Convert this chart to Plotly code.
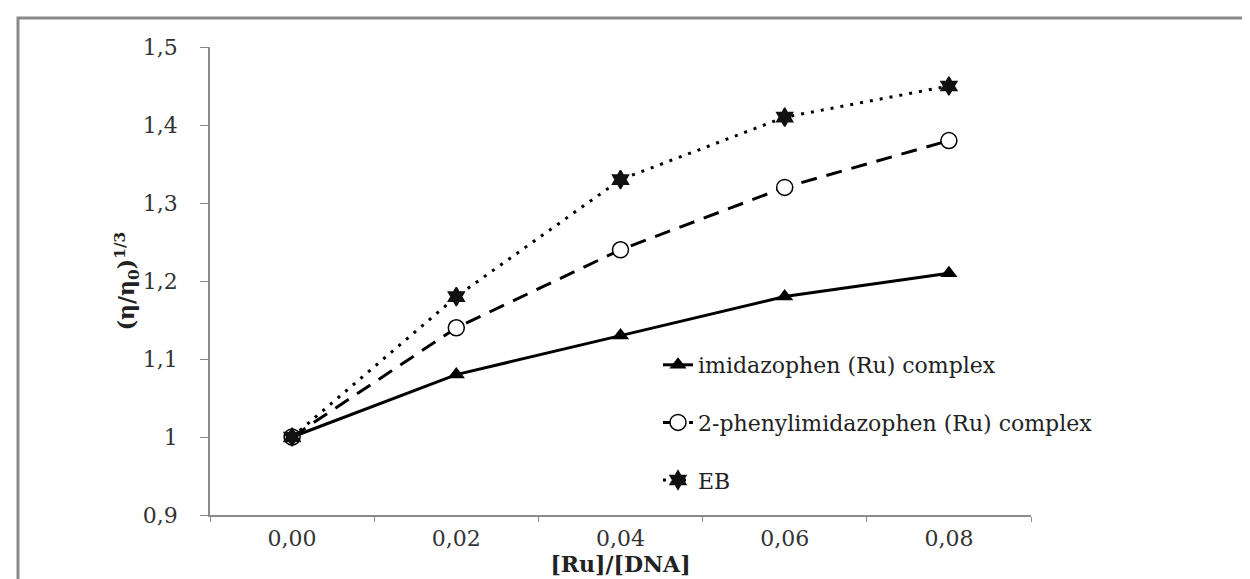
import plotly.graph_objects as go

ratio_labels = ["0,00", "0,02", "0,04", "0,06", "0,08"]
imidazophen = [1.00, 1.08, 1.13, 1.18, 1.21]
phenylimidazophen = [1.00, 1.14, 1.24, 1.32, 1.38]
eb = [1.00, 1.18, 1.33, 1.41, 1.45]

series_names = ["imidazophen (Ru) complex", "2-phenylimidazophen (Ru) complex", "EB"]

FONT = "DejaVu Serif"
FS = 22

fig = go.Figure()
fig.add_trace(go.Scatter(
    x=ratio_labels, y=imidazophen, name=series_names[0], mode="lines+markers",
    line=dict(color="black", width=3),
    marker=dict(symbol="triangle-up", size=15, color="black"),
    legendgroup="a"))
fig.add_trace(go.Scatter(
    x=ratio_labels, y=phenylimidazophen, name=series_names[1], mode="lines+markers",
    line=dict(color="black", width=3, dash="16px,10px"),
    marker=dict(symbol="circle", size=16, color="white", line=dict(color="black", width=1.5)),
    legendgroup="b"))
fig.add_trace(go.Scatter(
    x=ratio_labels, y=eb, name=series_names[2], mode="lines+markers",
    line=dict(color="black", width=3, dash="3px,7px"),
    marker=dict(symbol="hexagram", size=14, color="#111", line=dict(color="#111", width=1.5)),
    legendgroup="c"))

L, R, T, B = 202, 1023, 39, 507
W, H = 1250, 579


def px_x(p):
    return (p - L) / (R - L)


def px_y(p):
    return (B - p) / (B - T)


fig.update_layout(
    width=W, height=H,
    margin=dict(l=L, r=W - R, t=T, b=H - B, autoexpand=False),
    paper_bgcolor="white", plot_bgcolor="white",
    separators=",.",
    font=dict(family=FONT, size=FS, color="#333"),
    showlegend=True,
    legend=dict(
        x=px_x(650), y=px_y(336), xanchor="left", yanchor="top",
        bgcolor="rgba(0,0,0,0)", font=dict(family=FONT, size=FS, color="#222"),
        tracegroupgap=26, traceorder="grouped", itemwidth=30),
    xaxis=dict(
        type="category", range=[-0.5, 4.5],
        showline=True, linecolor="#8a8a8a", linewidth=1.5,
        ticks="outside", tickson="boundaries", ticklen=5, tickcolor="#8a8a8a",
        ticklabelstandoff=3,
        showgrid=False, zeroline=False,
        tickfont=dict(family=FONT, size=FS, color="#333"),
        title=dict(text="<b>[Ru]/[DNA]</b>", font=dict(family=FONT, size=FS, color="#222"), standoff=2)),
    yaxis=dict(
        range=[0.9, 1.5], dtick=0.1, tick0=0.9,
        showline=True, linecolor="#8a8a8a", linewidth=1.5,
        ticks="outside", ticklen=8, tickcolor="#8a8a8a",
        ticklabelstandoff=18,
        showgrid=False, zeroline=False,
        tickfont=dict(family=FONT, size=FS, color="#333"),
        title=dict(text="<b>(η/η<sub>0</sub>)<sup>1/3</sup></b>", font=dict(family=FONT, size=FS, color="#222"), standoff=2)),
    shapes=[
        dict(type="path", xref="paper", yref="paper",
             path=f"M {px_x(10)},{px_y(600)} L {px_x(10)},{px_y(10)} L {px_x(1260)},{px_y(10)}",
             line=dict(color="#8a8a8a", width=3)),
    ],
)

fig.write_html("out.html")
